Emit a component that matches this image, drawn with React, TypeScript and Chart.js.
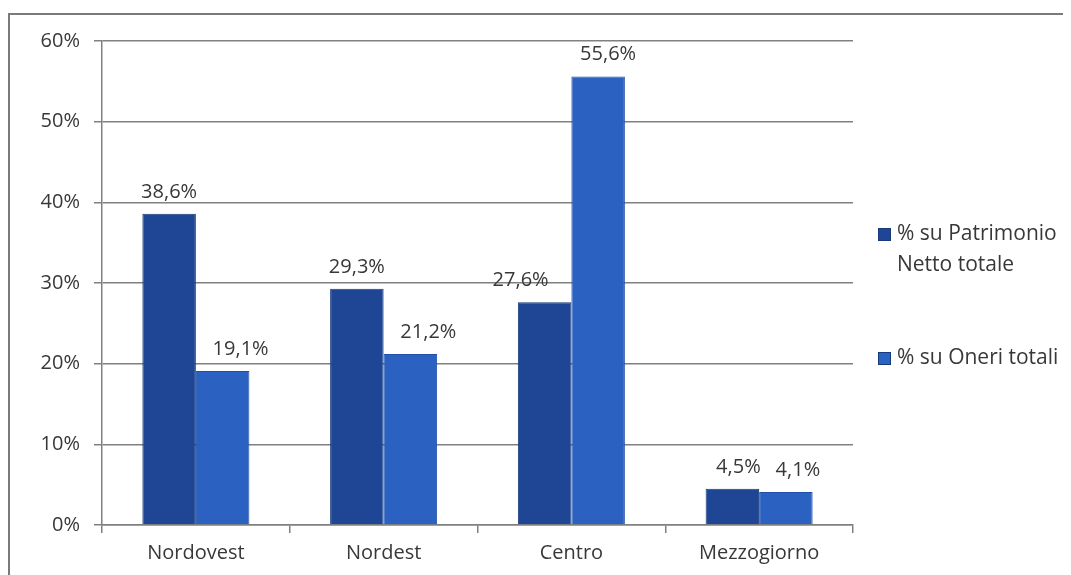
import React, { useEffect, useRef } from "react";
import { Chart, registerables } from "chart.js";

Chart.register(...registerables);

const categories = ["Nordovest", "Nordest", "Centro", "Mezzogiorno"];
const patrimonio = [38.6, 29.3, 27.6, 4.5];
const oneri = [19.1, 21.2, 55.6, 4.1];
const seriesNames = [["% su Patrimonio", "Netto totale"], ["% su Oneri totali"]];
const yTicks = [0, 10, 20, 30, 40, 50, 60];

const FONT = "'Open Sans', 'Liberation Sans', sans-serif";
const TEXT = "#383838";
const DARK = "#1f4694";
const LIGHT = "#2b62c2";

const fmt = (v: number) => v.toFixed(1).replace(".", ",") + "%";

const labelPlugin = {
  id: "valueLabels",
  afterDatasetsDraw(chart: any) {
    const ctx = chart.ctx;
    ctx.save();
    ctx.font = `20px ${FONT}`;
    ctx.fillStyle = TEXT;
    ctx.textAlign = "center";
    ctx.textBaseline = "alphabetic";
    chart.data.datasets.forEach((ds: any, di: number) => {
      const meta = chart.getDatasetMeta(di);
      meta.data.forEach((bar: any, i: number) => {
        let dx = di === 1 ? 18 : 0;
        if (di === 0 && i === 2) dx = -24;
        if (di === 0 && i === 3) dx = 6;
        if (di === 1 && i === 2) dx = 10;
        if (di === 1 && i === 3) dx = 12;
        ctx.fillText(fmt(ds.data[i]), bar.x + dx, bar.y - 16);
      });
    });
    ctx.restore();
  },
};

const legendPlugin = {
  id: "customLegend",
  afterDraw(chart: any) {
    const ctx = chart.ctx;
    const x = chart.chartArea.right + 25;
    const entries = [
      { color: DARK, lines: seriesNames[0], y: chart.chartArea.top + 193 },
      { color: LIGHT, lines: seriesNames[1], y: chart.chartArea.top + 317 },
    ];
    ctx.save();
    ctx.font = `21px ${FONT}`;
    ctx.textBaseline = "middle";
    ctx.textAlign = "left";
    entries.forEach((e) => {
      ctx.fillStyle = e.color;
      ctx.fillRect(x, e.y - 6, 13, 13);
      ctx.strokeStyle = "#163a7c";
      ctx.lineWidth = 1;
      ctx.strokeRect(x + 0.5, e.y - 5.5, 12, 12);
      ctx.fillStyle = TEXT;
      e.lines.forEach((l, k) => ctx.fillText(l, x + 19, e.y + k * 31));
    });
    ctx.restore();
  },
};

export default function App() {
  const ref = useRef<HTMLCanvasElement>(null);
  useEffect(() => {
    if (!ref.current) return;
    const chart = new Chart(ref.current, {
      type: "bar",
      data: {
        labels: categories,
        datasets: [
          {
            label: seriesNames[0].join(" "),
            data: patrimonio,
            backgroundColor: DARK,
            borderColor: "#163a7c",
            borderWidth: 1,
            categoryPercentage: 0.57,
            barPercentage: 1,
          },
          {
            label: seriesNames[1].join(" "),
            data: oneri,
            backgroundColor: LIGHT,
            borderColor: "#2150a8",
            borderWidth: 1,
            categoryPercentage: 0.57,
            barPercentage: 1,
          },
        ],
      },
      plugins: [labelPlugin, legendPlugin],
      options: {
        animation: false,
        responsive: false,
        maintainAspectRatio: false,
        layout: { padding: { top: 23, right: 218, left: 0, bottom: 0 } },
        plugins: { legend: { display: false }, tooltip: { enabled: false } },
        scales: {
          x: {
            grid: {
              offset: true,
              drawOnChartArea: false,
              color: "#808080",
              tickLength: 8,
              lineWidth: 1.5,
            },
            border: { color: "#808080", width: 1.5 },
            ticks: { color: TEXT, font: { family: FONT, size: 20 }, padding: 8 },
            afterFit: (s: any) => {
              s.height = 50;
            },
          },
          y: {
            min: 0,
            max: 60,
            afterBuildTicks: (s: any) => {
              s.ticks = yTicks.map((v) => ({ value: v }));
            },
            grid: { color: "#808080", tickLength: 8, lineWidth: 1.5 },
            border: { color: "#808080", width: 1.5 },
            ticks: {
              color: TEXT,
              font: { family: FONT, size: 20 },
              padding: 14,
              callback: (v: any) => v + "%",
            },
            afterFit: (s: any) => {
              s.width = 92;
            },
          },
        },
      },
    });
    return () => chart.destroy();
  }, []);
  return (
    <div
      style={{
        marginTop: 5,
        width: 1061,
        height: 560,
        borderTop: "2px solid #7a7a7a",
        borderLeft: "2px solid #7a7a7a",
      }}
    >
      <canvas ref={ref} width={1061} height={560} style={{ display: "block" }} />
    </div>
  );
}
